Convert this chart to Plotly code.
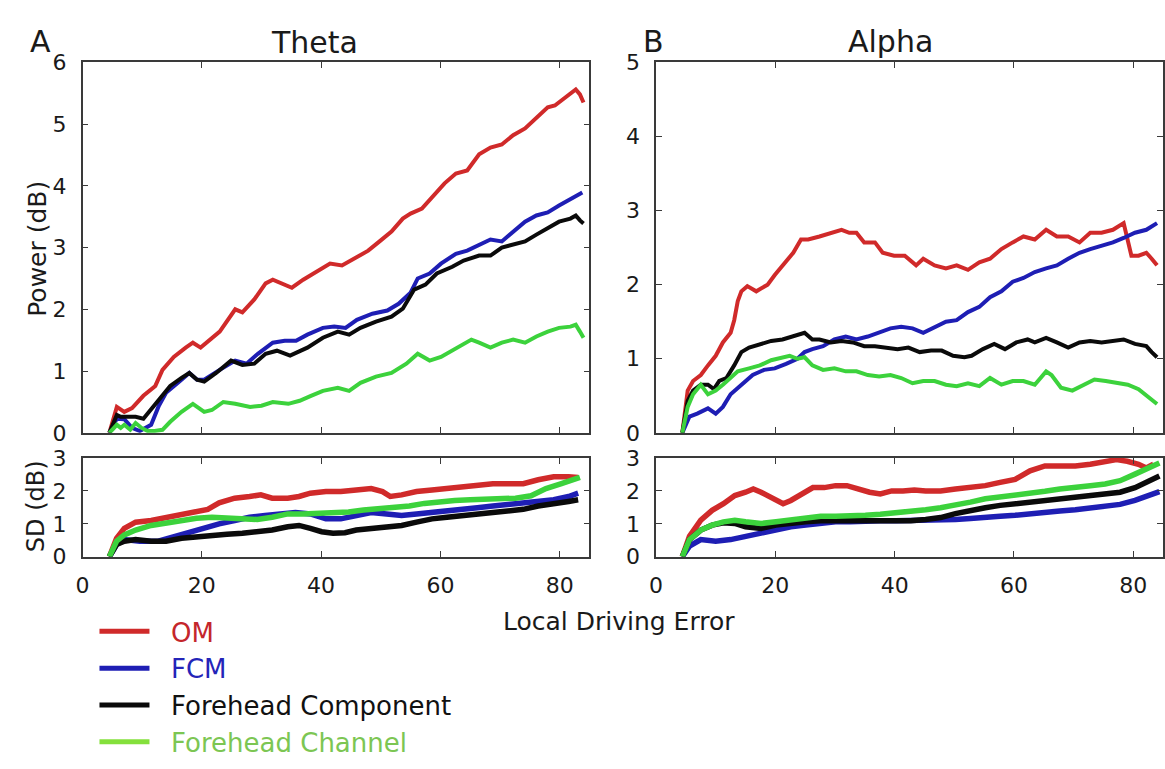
import plotly.graph_objects as go

# ---------------- Theta band, mean power (dB) ----------------
th_om_x = [4.5, 5.75, 7, 8.3, 10.2, 12.2, 13.4, 15.3, 17.3, 18.5, 19.8, 23, 25.6, 26.8, 28.8, 30.7, 31.9, 33.2, 35.1, 37, 39.6, 41.5, 43.5, 46, 47.9, 49.8, 51.8, 53.7, 55, 56.9, 58.8, 60.7, 62.6, 64.5, 66.5, 68.4, 70.3, 72.2, 74.2, 76.7, 78, 79.2, 81.1, 82.7, 83.4, 84]
th_om_y = [0, 0.42, 0.34, 0.4, 0.6, 0.76, 1.02, 1.23, 1.38, 1.46, 1.38, 1.64, 2.0, 1.95, 2.16, 2.42, 2.48, 2.42, 2.35, 2.48, 2.63, 2.74, 2.71, 2.84, 2.95, 3.1, 3.26, 3.47, 3.55, 3.63, 3.83, 4.04, 4.2, 4.25, 4.51, 4.62, 4.67, 4.82, 4.93, 5.14, 5.27, 5.3, 5.45, 5.56, 5.48, 5.35]

th_fcm_x = [4.5, 5.75, 7, 8.3, 9.6, 11.5, 12.8, 14, 16, 17.9, 19.2, 20.4, 23, 25.6, 27.5, 29.4, 31.9, 33.9, 35.8, 37.7, 40.3, 42.2, 44.1, 46, 48.6, 51.1, 53, 55, 56.2, 58.2, 60.1, 62.6, 64.5, 66.5, 68.4, 70.3, 72.2, 74.2, 76.1, 78, 79.9, 81.8, 83.8]
th_fcm_y = [0, 0.23, 0.22, 0.08, 0.03, 0.13, 0.44, 0.65, 0.81, 0.97, 0.86, 0.86, 1.02, 1.17, 1.12, 1.28, 1.46, 1.49, 1.49, 1.59, 1.7, 1.72, 1.7, 1.83, 1.93, 1.98, 2.09, 2.27, 2.5, 2.58, 2.74, 2.9, 2.95, 3.05, 3.13, 3.1, 3.26, 3.42, 3.52, 3.57, 3.68, 3.78, 3.89]

th_comp_x = [4.5, 5.75, 6.4, 8.9, 10.2, 11.5, 12.8, 14.7, 16.6, 17.9, 19.2, 20.4, 22.4, 24.9, 26.8, 28.8, 30.7, 32.6, 34.8, 37.7, 40.3, 42.8, 44.7, 46.6, 49.2, 51.8, 53.7, 55.6, 57.5, 59.4, 62, 63.9, 66.5, 68.4, 70.3, 72.2, 74.2, 76.1, 78, 79.9, 81.8, 82.7, 83.4, 84]
th_comp_y = [0, 0.29, 0.26, 0.26, 0.23, 0.39, 0.55, 0.76, 0.89, 0.97, 0.86, 0.83, 0.97, 1.17, 1.1, 1.12, 1.28, 1.33, 1.25, 1.38, 1.54, 1.64, 1.59, 1.7, 1.8, 1.88, 2.01, 2.32, 2.4, 2.58, 2.69, 2.79, 2.87, 2.87, 3.0, 3.05, 3.1, 3.21, 3.31, 3.42, 3.47, 3.52, 3.44, 3.39]

th_chan_x = [4.5, 5.75, 6.4, 7, 8, 8.9, 9.9, 10.9, 12.1, 13.4, 14.7, 16.6, 18.5, 20.4, 21.7, 23.6, 25.6, 28.1, 30, 31.9, 34.5, 36.4, 38.3, 40.3, 42.8, 44.7, 46.6, 49.2, 51.8, 54.3, 56.2, 58.2, 60.1, 62, 63.9, 65.2, 66.5, 68.4, 70.3, 72.2, 74.2, 76.1, 78, 79.9, 81.8, 82.7, 83.4, 84]
th_chan_y = [0, 0.13, 0.08, 0.13, 0.05, 0.16, 0.08, 0.03, 0.03, 0.05, 0.18, 0.34, 0.47, 0.34, 0.37, 0.5, 0.47, 0.42, 0.44, 0.5, 0.47, 0.52, 0.6, 0.68, 0.73, 0.68, 0.81, 0.91, 0.97, 1.12, 1.28, 1.17, 1.23, 1.33, 1.43, 1.51, 1.46, 1.38, 1.46, 1.51, 1.46, 1.56, 1.64, 1.7, 1.72, 1.75, 1.64, 1.54]

# ---------------- Alpha band, mean power (dB) ----------------
al_om_x = [4.4, 5.3, 6.2, 7.5, 8.7, 10, 11.2, 12.5, 13.1, 13.7, 14.3, 15.3, 16.8, 18.7, 19.9, 21.2, 23, 24.3, 25.5, 27.4, 29.3, 31.1, 32.4, 33.6, 34.9, 36.7, 38, 39.9, 41.7, 43.6, 44.8, 46.7, 48.6, 50.4, 52.3, 54.2, 56, 57.9, 59.8, 61.6, 63.5, 65.4, 67.2, 69.1, 71, 72.8, 74.7, 76.6, 78.4, 79, 79.7, 80.9, 82.2, 83.1, 84]
al_om_y = [0, 0.57, 0.7, 0.78, 0.91, 1.04, 1.22, 1.35, 1.52, 1.78, 1.91, 1.98, 1.91, 2.0, 2.13, 2.26, 2.43, 2.61, 2.61, 2.65, 2.7, 2.74, 2.7, 2.7, 2.57, 2.57, 2.43, 2.39, 2.39, 2.26, 2.35, 2.26, 2.22, 2.26, 2.2, 2.3, 2.35, 2.48, 2.57, 2.65, 2.61, 2.74, 2.65, 2.65, 2.57, 2.7, 2.7, 2.74, 2.83, 2.65, 2.39, 2.39, 2.43, 2.35, 2.26]

al_fcm_x = [4.4, 5.6, 6.9, 8.7, 10, 11.2, 12.5, 14.3, 16.2, 18.1, 19.9, 21.8, 23.7, 24.9, 26.2, 28, 29.9, 31.8, 33.6, 35.5, 37.4, 39.3, 41.1, 43, 44.8, 46.7, 48.6, 50.4, 52.3, 54.2, 56, 57.9, 59.8, 61.6, 63.5, 65.4, 67.2, 69.1, 71, 72.8, 74.7, 76.6, 78.4, 80.3, 82.2, 84]
al_fcm_y = [0, 0.22, 0.26, 0.33, 0.26, 0.35, 0.52, 0.65, 0.78, 0.85, 0.87, 0.93, 1.0, 1.09, 1.13, 1.17, 1.26, 1.3, 1.26, 1.3, 1.35, 1.41, 1.43, 1.41, 1.35, 1.43, 1.5, 1.52, 1.63, 1.7, 1.83, 1.91, 2.04, 2.09, 2.17, 2.22, 2.26, 2.35, 2.43, 2.48, 2.52, 2.57, 2.63, 2.7, 2.74, 2.83]

al_comp_x = [4.4, 5.3, 6.2, 7.5, 8.7, 9.7, 10.6, 11.8, 13.1, 14.3, 15.6, 17.4, 19.3, 21.2, 23, 24.9, 26.2, 27.4, 29.3, 31.1, 33, 34.9, 36.7, 38.6, 40.5, 42.3, 44.2, 46.1, 47.9, 49.8, 51.7, 52.9, 54.8, 56.7, 58.5, 60.4, 62.3, 63.5, 65.4, 67.2, 69.1, 71, 72.8, 74.7, 76.6, 78.4, 80.3, 82.2, 83.1, 84]
al_comp_y = [0, 0.43, 0.57, 0.65, 0.65, 0.59, 0.7, 0.74, 0.91, 1.09, 1.15, 1.2, 1.24, 1.26, 1.3, 1.35, 1.26, 1.26, 1.22, 1.24, 1.22, 1.17, 1.17, 1.15, 1.13, 1.15, 1.09, 1.11, 1.11, 1.04, 1.02, 1.04, 1.13, 1.2, 1.13, 1.22, 1.26, 1.22, 1.28, 1.22, 1.15, 1.22, 1.24, 1.22, 1.24, 1.26, 1.2, 1.17, 1.09, 1.02]

al_chan_x = [4.4, 5.3, 6.2, 7.5, 8.7, 10, 11.2, 12.5, 13.7, 15.6, 17.4, 19.3, 21.2, 22.4, 23.7, 24.9, 26.2, 28, 29.9, 31.8, 33.6, 35.5, 37.4, 39.3, 41.1, 43, 44.8, 46.7, 48.6, 50.4, 52.3, 54.2, 56, 57.9, 59.8, 61.6, 63.5, 65.4, 66.3, 67.9, 69.8, 71.6, 73.5, 75.4, 77.2, 79.1, 80.9, 82.5, 84]
al_chan_y = [0, 0.35, 0.52, 0.65, 0.52, 0.57, 0.65, 0.74, 0.83, 0.87, 0.91, 0.98, 1.02, 1.04, 1.0, 1.02, 0.91, 0.85, 0.87, 0.83, 0.83, 0.78, 0.76, 0.78, 0.74, 0.67, 0.7, 0.7, 0.65, 0.63, 0.67, 0.63, 0.74, 0.65, 0.7, 0.7, 0.65, 0.83, 0.78, 0.61, 0.57, 0.65, 0.72, 0.7, 0.67, 0.65, 0.59, 0.48, 0.39]

# ---------------- Theta band, SD (dB) ----------------
th_sd_om_x = [4.5, 5.7, 7, 8.9, 11.5, 14, 16.6, 19.1, 21, 22.9, 25.5, 28, 29.9, 31.8, 34.4, 36.3, 38.2, 40.8, 43.3, 45.9, 48.4, 50.3, 51.6, 53.5, 56, 58.6, 61.1, 63.7, 66.2, 68.8, 71.3, 73.9, 76.4, 79, 81.5, 83.1]
th_sd_om_y = [0, 0.56, 0.86, 1.05, 1.1, 1.2, 1.3, 1.39, 1.44, 1.64, 1.78, 1.83, 1.88, 1.78, 1.78, 1.83, 1.93, 1.98, 1.98, 2.03, 2.07, 1.98, 1.83, 1.88, 1.98, 2.03, 2.07, 2.14, 2.17, 2.22, 2.22, 2.22, 2.34, 2.43, 2.43, 2.41]

th_sd_fcm_x = [4.5, 5.7, 7, 9.6, 12.7, 15.3, 17.8, 20.4, 22.9, 25.5, 28, 30.6, 33.1, 35.7, 38.2, 40.8, 43.3, 45.9, 48.4, 51, 53.5, 56, 58.6, 61.1, 63.7, 66.2, 68.8, 71.3, 73.9, 76.4, 79, 81.5, 83.1]
th_sd_fcm_y = [0, 0.37, 0.52, 0.47, 0.47, 0.61, 0.76, 0.86, 1.0, 1.1, 1.2, 1.25, 1.3, 1.34, 1.3, 1.15, 1.15, 1.25, 1.34, 1.3, 1.25, 1.3, 1.34, 1.39, 1.44, 1.49, 1.54, 1.59, 1.64, 1.68, 1.73, 1.83, 1.93]

th_sd_comp_x = [4.5, 5.7, 7, 8.9, 11.5, 14, 16.6, 19.1, 21.7, 24.2, 26.8, 29.3, 31.8, 34.4, 36.3, 38.2, 40.1, 42, 44, 45.9, 48.4, 51, 53.5, 56, 58.6, 61.1, 63.7, 66.2, 68.8, 71.3, 73.9, 76.4, 79, 81.5, 83.1]
th_sd_comp_y = [0, 0.37, 0.47, 0.52, 0.47, 0.47, 0.56, 0.61, 0.66, 0.68, 0.71, 0.76, 0.81, 0.91, 0.95, 0.86, 0.76, 0.71, 0.73, 0.81, 0.86, 0.91, 0.95, 1.05, 1.15, 1.2, 1.25, 1.3, 1.34, 1.39, 1.44, 1.54, 1.59, 1.68, 1.73]

th_sd_chan_x = [4.5, 5.7, 7, 8.9, 11.5, 14, 16.6, 19.1, 21.7, 24.2, 26.8, 29.3, 31.8, 34.4, 36.9, 39.5, 42, 44.6, 47.1, 49.7, 52.2, 54.8, 57.3, 59.9, 62.4, 65, 67.5, 70, 72.6, 75.2, 77.7, 80.3, 82.2, 83.4]
th_sd_chan_y = [0, 0.47, 0.66, 0.81, 0.95, 1.03, 1.1, 1.17, 1.2, 1.17, 1.15, 1.13, 1.2, 1.3, 1.3, 1.32, 1.32, 1.36, 1.42, 1.46, 1.49, 1.54, 1.62, 1.68, 1.71, 1.73, 1.75, 1.75, 1.78, 1.85, 2.07, 2.22, 2.32, 2.41]

# ---------------- Alpha band, SD (dB) ----------------
al_sd_om_x = [4.4, 5.6, 7.5, 9.4, 11.3, 13.2, 15, 16.3, 17.6, 19.5, 21.3, 22.6, 24.5, 26.3, 28.2, 30.1, 32, 33.9, 35.8, 37.6, 39.5, 41.4, 43.3, 45.2, 47.7, 50.2, 52.7, 55.2, 57.7, 60.2, 62.7, 65.2, 67.7, 70.3, 72.8, 75.3, 77.2, 79, 80.9, 82.2, 83.4]
al_sd_om_y = [0, 0.62, 1.11, 1.41, 1.61, 1.86, 1.96, 2.06, 1.96, 1.76, 1.61, 1.71, 1.91, 2.1, 2.1, 2.16, 2.16, 2.06, 1.96, 1.91, 2.0, 2.0, 2.03, 2.0, 2.0, 2.06, 2.1, 2.16, 2.26, 2.35, 2.61, 2.76, 2.76, 2.76, 2.81, 2.9, 2.95, 2.9, 2.81, 2.7, 2.81]

al_sd_fcm_x = [4.4, 5.6, 7.5, 10, 12.5, 15, 17.6, 20.1, 22.6, 25.1, 27.6, 30.1, 32.6, 35.1, 37.6, 40.2, 42.7, 45.2, 47.7, 50.2, 52.7, 55.2, 57.7, 60.2, 62.7, 65.2, 67.7, 70.3, 72.8, 75.3, 77.8, 80.3, 82.8, 84.4]
al_sd_fcm_y = [0, 0.32, 0.52, 0.47, 0.52, 0.62, 0.72, 0.81, 0.91, 0.96, 1.03, 1.06, 1.06, 1.09, 1.09, 1.09, 1.09, 1.09, 1.11, 1.13, 1.16, 1.21, 1.23, 1.26, 1.29, 1.33, 1.39, 1.43, 1.49, 1.53, 1.59, 1.71, 1.86, 1.98]

al_sd_comp_x = [4.4, 5.6, 7.5, 9.4, 11.3, 13.2, 15, 17.6, 20.1, 22.6, 25.1, 27.6, 30.1, 32.6, 35.1, 37.6, 40.2, 42.7, 45.2, 47.7, 50.2, 52.7, 55.2, 57.7, 60.2, 62.7, 65.2, 67.7, 70.3, 72.8, 75.3, 77.8, 80.3, 82.8, 84.4]
al_sd_comp_y = [0, 0.52, 0.81, 0.96, 1.03, 1.01, 0.91, 0.86, 0.96, 1.03, 1.06, 1.09, 1.09, 1.09, 1.09, 1.09, 1.06, 1.09, 1.13, 1.19, 1.31, 1.41, 1.49, 1.56, 1.61, 1.66, 1.71, 1.76, 1.81, 1.86, 1.91, 1.96, 2.1, 2.3, 2.45]

al_sd_chan_x = [4.4, 5.6, 7.5, 9.4, 11.3, 13.2, 15, 17.6, 20.1, 22.6, 25.1, 27.6, 30.1, 32.6, 35.1, 37.6, 40.2, 42.7, 45.2, 47.7, 50.2, 52.7, 55.2, 57.7, 60.2, 62.7, 65.2, 67.7, 70.3, 72.8, 75.3, 77.8, 80.3, 82.8, 84.4]
al_sd_chan_y = [0, 0.52, 0.81, 0.96, 1.06, 1.11, 1.06, 1.01, 1.06, 1.13, 1.19, 1.23, 1.23, 1.23, 1.26, 1.29, 1.33, 1.39, 1.43, 1.49, 1.56, 1.66, 1.76, 1.81, 1.86, 1.91, 1.99, 2.06, 2.13, 2.16, 2.21, 2.31, 2.51, 2.7, 2.85]

# Axis tick labels
x_ticks = [0, 20, 40, 60, 80]
theta_power_ticks = [0, 1, 2, 3, 4, 5, 6]
alpha_power_ticks = [0, 1, 2, 3, 4, 5]
sd_ticks = [0, 1, 2, 3]

series_names = ["OM", "FCM", "Forehead Component", "Forehead Channel"]
line_colors = ["#d02a2a", "#1e1eb4", "#0a0a0a", "#3cd23c"]
legend_line_colors = ["#d02a2a", "#1e1eb4", "#0a0a0a", "#84e03c"]
legend_text_colors = ["#c4262b", "#2424b8", "#111111", "#7cc653"]

W, H = 1165, 769
FONT = "DejaVu Sans"
TXT = "#1a1a1a"
AX = "#3a3a3a"

fig = go.Figure()

panels = [
    ("x", "y", [(th_om_x, th_om_y), (th_fcm_x, th_fcm_y), (th_comp_x, th_comp_y), (th_chan_x, th_chan_y)], 4),
    ("x2", "y2", [(al_om_x, al_om_y), (al_fcm_x, al_fcm_y), (al_comp_x, al_comp_y), (al_chan_x, al_chan_y)], 4),
    ("x3", "y3", [(th_sd_om_x, th_sd_om_y), (th_sd_fcm_x, th_sd_fcm_y), (th_sd_comp_x, th_sd_comp_y), (th_sd_chan_x, th_sd_chan_y)], 5.5),
    ("x4", "y4", [(al_sd_om_x, al_sd_om_y), (al_sd_fcm_x, al_sd_fcm_y), (al_sd_comp_x, al_sd_comp_y), (al_sd_chan_x, al_sd_chan_y)], 5.5),
]

for xa, ya, curves, lw in panels:
    for (cx, cy), name, col in zip(curves, series_names, line_colors):
        fig.add_trace(go.Scatter(
            x=cx, y=cy, mode="lines", name=name, showlegend=False,
            line=dict(color=col, width=lw, shape="linear"),
            xaxis=xa, yaxis=ya, hoverinfo="skip",
        ))

# Legend entries (text coloured like the line)
for i, (name, lc, tc) in enumerate(zip(series_names, legend_line_colors, legend_text_colors)):
    fig.add_trace(go.Scatter(
        x=[None], y=[None], mode="lines",
        name=f"&nbsp;&nbsp;<span style='color:{tc}'>{name}</span>",
        line=dict(color=lc, width=5), legendgroup=f"g{i}",
        xaxis="x", yaxis="y", showlegend=True,
    ))


def px_x(p):
    return p / W


def px_y(p):
    return 1 - p / H


def xaxis(domain, anchor, labels):
    return dict(
        domain=domain, anchor=anchor, range=[0, 85], tickvals=x_ticks,
        showticklabels=labels, ticks="inside", ticklen=6, tickcolor=AX, tickwidth=1,
        showline=True, linecolor=AX, linewidth=1.5, mirror="ticks",
        showgrid=False, zeroline=False, ticklabelstandoff=8,
        tickfont=dict(family=FONT, size=22, color=TXT),
    )


def yaxis(domain, anchor, rng, vals):
    return dict(
        domain=domain, anchor=anchor, range=rng, tickvals=vals,
        ticks="inside", ticklen=6, tickcolor=AX, tickwidth=1,
        showline=True, linecolor=AX, linewidth=1.5, mirror="ticks",
        showgrid=False, zeroline=False, ticklabelstandoff=10,
        tickfont=dict(family=FONT, size=22, color=TXT),
    )


dom_a = [px_x(76), px_x(586)]
dom_b = [px_x(653), px_x(1163)]
dom_main = [px_y(435), px_y(52)]
dom_sd = [px_y(563), px_y(461)]

fig.update_layout(
    width=W, height=H,
    margin=dict(l=0, r=0, t=0, b=0),
    paper_bgcolor="white", plot_bgcolor="white",
    xaxis=xaxis(dom_a, "y", False),
    yaxis=yaxis(dom_main, "x", [0, 6], theta_power_ticks),
    xaxis2=xaxis(dom_b, "y2", False),
    yaxis2=yaxis(dom_main, "x2", [0, 5], alpha_power_ticks),
    xaxis3=xaxis(dom_a, "y3", True),
    yaxis3=yaxis(dom_sd, "x3", [0, 3], sd_ticks),
    xaxis4=xaxis(dom_b, "y4", True),
    yaxis4=yaxis(dom_sd, "x4", [0, 3], sd_ticks),
    showlegend=True,
    legend=dict(
        x=px_x(88), y=px_y(616), xanchor="left", yanchor="top",
        font=dict(family=FONT, size=26, color=TXT),
        bgcolor="rgba(0,0,0,0)", borderwidth=0,
        itemwidth=50, tracegroupgap=0, traceorder="grouped",
    ),
)

annotations = [
    dict(text="A", x=px_x(34), y=px_y(31), font=dict(size=30)),
    dict(text="B", x=px_x(650), y=px_y(30), font=dict(size=30)),
    dict(text="Theta", x=px_x(309), y=px_y(32), font=dict(size=30)),
    dict(text="Alpha", x=px_x(889), y=px_y(30), font=dict(size=30)),
    dict(text="Power (dB)", x=px_x(30), y=px_y(245), font=dict(size=25), textangle=-90),
    dict(text="SD (dB)", x=px_x(30), y=px_y(511), font=dict(size=24), textangle=-90),
    dict(text="Local Driving Error", x=px_x(616), y=px_y(630), font=dict(size=25)),
]
for a in annotations:
    a.update(xref="paper", yref="paper", showarrow=False, xanchor="center", yanchor="middle")
    a["font"].update(family=FONT, color=TXT)
fig.update_layout(annotations=annotations)

fig.write_html("out.html")
